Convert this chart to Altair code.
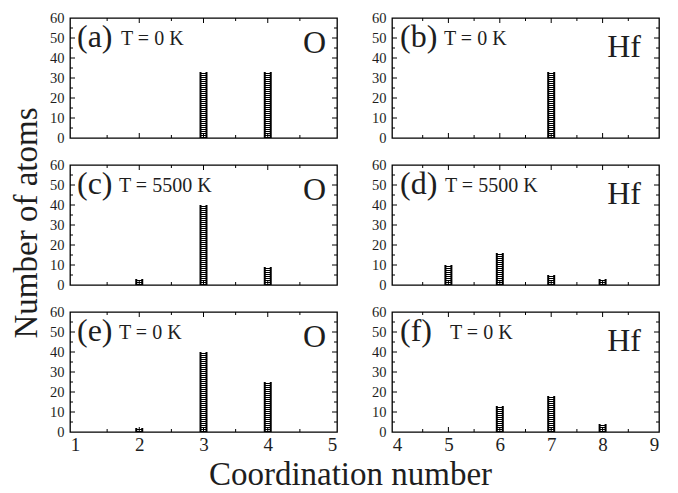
import altair as alt
import pandas as pd

FONT = "Liberation Serif, Times New Roman, DejaVu Serif, serif"
INK = "#1e1e1e"
W, H = 267, 120

# ---- data ----
panel_ids = ["(a)", "(b)", "(c)", "(d)", "(e)", "(f)"]
temperatures = ["T = 0 K", "T = 0 K", "T = 5500 K", "T = 5500 K", "T = 0 K", "T = 0 K"]
elements = ["O", "Hf", "O", "Hf", "O", "Hf"]

cn_a = [3, 4]
atoms_a = [33, 33]
cn_b = [7]
atoms_b = [33]
cn_c = [2, 3, 4]
atoms_c = [3, 40, 9]
cn_d = [5, 6, 7, 8]
atoms_d = [10, 16, 5, 3]
cn_e = [2, 3, 4]
atoms_e = [2, 40, 25]
cn_f = [6, 7, 8]
atoms_f = [13, 18, 4]

coord_numbers = [cn_a, cn_b, cn_c, cn_d, cn_e, cn_f]
atom_counts = [atoms_a, atoms_b, atoms_c, atoms_d, atoms_e, atoms_f]

x_range_O = [1, 5]
x_range_Hf = [4, 9]
y_range = [0, 60]
y_labels = [0, 10, 20, 30, 40, 50, 60]
y_major = [10, 20, 30, 40, 50]
y_minor = [5, 15, 25, 35, 45, 55]

# annotation placement (pixels inside each panel)
id_x = [7, 8, 7, 8, 7, 8]
temp_x = [51, 52, 49, 53, 49, 58]
elem_x = [256, 249, 256, 249, 256, 249]


def panel(i, show_x):
    dom = x_range_O if elements[i] == "O" else x_range_Hf
    xs = alt.Scale(domain=dom, nice=False, zero=False)
    ys = alt.Scale(domain=y_range, nice=False, zero=False)
    xaxis = alt.Axis(values=list(range(dom[0], dom[1] + 1)), format="d",
                     labelFont=FONT, labelFontSize=19, labelColor=INK,
                     labelPadding=3, ticks=False, domain=False, grid=False,
                     title=None, labelFlush=False) if show_x else None
    yaxis = alt.Axis(values=y_labels, format="d", labelFont=FONT, labelFontSize=14.5,
                     labelColor=INK, labelPadding=6, ticks=False, domain=False,
                     grid=False, title=None)

    def X(f):
        return alt.X(f, type="quantitative", scale=xs, axis=xaxis)

    def Y(f):
        return alt.Y(f, type="quantitative", scale=ys, axis=yaxis)

    col_df = pd.DataFrame({"cn": coord_numbers[i], "n": atom_counts[i]})
    col_df["base"] = 0
    rows = []
    for c, n in zip(coord_numbers[i], atom_counts[i]):
        for k in range(n):
            rows.append({"cn": c, "k0": k + 0.5, "k1": k + 1.0})
    dash_df = pd.DataFrame(rows)

    columns = alt.Chart(col_df).mark_bar(size=8, color="black").encode(
        x=X("cn"), y=Y("base"), y2="n")
    dashes = alt.Chart(dash_df).mark_bar(size=4, color="white").encode(
        x=X("cn"), y=Y("k0"), y2="k1")

    xmaj = [v for v in range(dom[0] + 1, dom[1])]
    xmin = [v + 0.5 for v in range(dom[0], dom[1])]
    xt_df = pd.DataFrame({"v": xmaj + xmin, "len": [5] * len(xmaj) + [3] * len(xmin)})
    yt_df = pd.DataFrame({"v": y_major + y_minor, "len": [5] * len(y_major) + [3] * len(y_minor)})

    layers = [columns, dashes]
    for d in (5, 3):
        xd = xt_df[xt_df["len"] == d]
        yd = yt_df[yt_df["len"] == d]
        layers.append(alt.Chart(xd).mark_rule(color="black", strokeWidth=1).encode(
            x=X("v"), y=alt.value(H), y2=alt.value(H - d)))
        layers.append(alt.Chart(xd).mark_rule(color="black", strokeWidth=1).encode(
            x=X("v"), y=alt.value(0), y2=alt.value(d)))
        layers.append(alt.Chart(yd).mark_rule(color="black", strokeWidth=1).encode(
            y=Y("v"), x=alt.value(0), x2=alt.value(d)))
        layers.append(alt.Chart(yd).mark_rule(color="black", strokeWidth=1).encode(
            y=Y("v"), x=alt.value(W), x2=alt.value(W - d)))

    lab_df = pd.DataFrame({"t": [panel_ids[i]]})
    tmp_df = pd.DataFrame({"t": [temperatures[i]]})
    el_df = pd.DataFrame({"t": [elements[i]]})
    layers.append(alt.Chart(lab_df).mark_text(align="left", baseline="alphabetic",
                                              font=FONT, fontSize=32, color=INK).encode(
        x=alt.value(id_x[i]), y=alt.value(29), text="t:N"))
    layers.append(alt.Chart(tmp_df).mark_text(align="left", baseline="alphabetic",
                                              font=FONT, fontSize=20, color=INK).encode(
        x=alt.value(temp_x[i]), y=alt.value(27), text="t:N"))
    layers.append(alt.Chart(el_df).mark_text(align="right", baseline="alphabetic",
                                             font=FONT, fontSize=32, color=INK).encode(
        x=alt.value(elem_x[i]), y=alt.value(35 if elements[i] == "O" else 39), text="t:N"))

    return alt.layer(*layers).properties(width=W, height=H)


rows = []
for r in range(3):
    rows.append(alt.hconcat(panel(2 * r, r == 2), panel(2 * r + 1, r == 2), spacing=31))

grid = alt.vconcat(*rows, spacing=10,
                   title=alt.TitleParams("Number of atoms", orient="left", anchor="middle",
                                         font=FONT, fontSize=33, fontWeight="normal",
                                         color=INK, offset=5, dx=9))

chart = alt.vconcat(grid, title=alt.TitleParams("Coordination number", orient="bottom",
                                                anchor="middle", font=FONT, fontSize=33,
                                                fontWeight="normal", color=INK, offset=4,
                                                dx=15)
                    ).properties(padding={"left": 2, "top": 1, "right": 5, "bottom": 0}
                    ).configure_view(stroke="black", strokeWidth=1.3)

chart.save("out.html", embed_options={"renderer": "svg", "actions": False})
